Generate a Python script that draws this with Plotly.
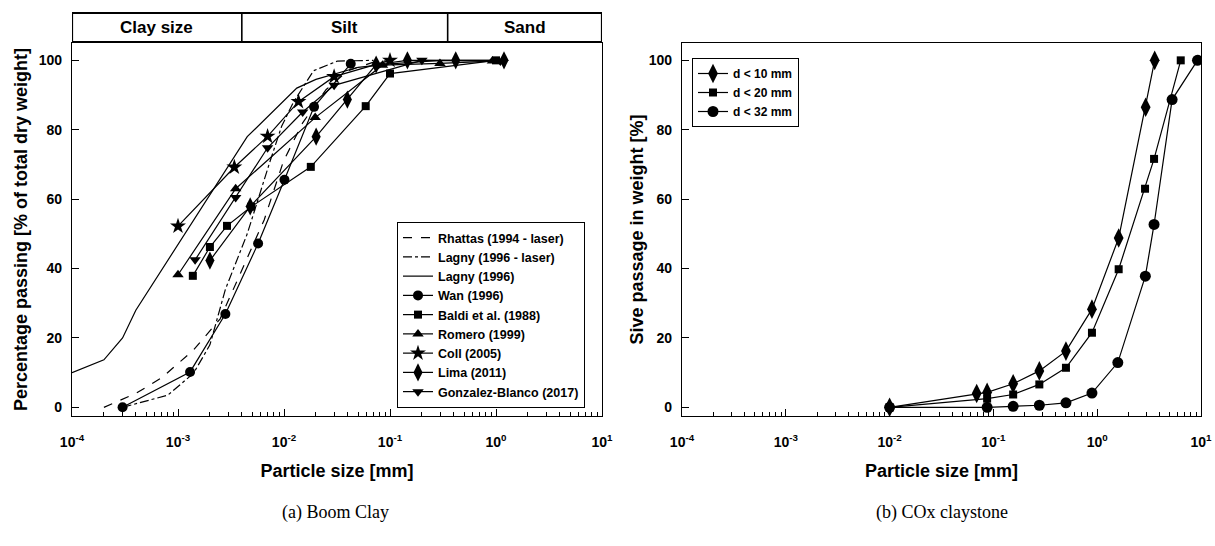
import numpy as np
import plotly.graph_objects as go

# ---------------- Boom Clay: particle size [mm] vs percentage passing [%] ----------------
rhattas_d = [0.0002, 0.0004, 0.0007, 0.0014, 0.0025, 0.0033, 0.0042, 0.0065, 0.0099, 0.015, 0.025, 0.04, 0.07, 0.1]
rhattas_p = [0, 4, 8.5, 16.5, 25.5, 34, 41, 54, 71, 82, 91.6, 97, 99.5, 100]

lagny_laser_d = [0.0003, 0.0008, 0.0014, 0.002, 0.0028, 0.0045, 0.0074, 0.0095, 0.0123, 0.019, 0.032, 0.07]
lagny_laser_p = [0, 3.5, 9.8, 18, 34, 50, 71, 81, 88, 97, 99.8, 100]

lagny_d = [0.0001, 0.0002, 0.0003, 0.0004, 0.0045, 0.0132, 0.02, 0.05, 0.1, 0.3, 1.0]
lagny_p = [10, 13.7, 20, 28, 78, 92, 94.5, 98, 99, 100, 100]

wan_d = [0.0003, 0.0013, 0.0028, 0.0057, 0.0101, 0.0192, 0.0426]
wan_p = [0, 10.2, 26.9, 47.2, 65.6, 86.6, 99]

baldi_d = [0.00138, 0.002, 0.0029, 0.0049, 0.0179, 0.059, 0.1, 1.0]
baldi_p = [37.9, 46.2, 52.3, 57.8, 69.3, 86.8, 96.2, 100]

romero_d = [0.001, 0.0035, 0.0197, 0.085, 0.296, 0.925]
romero_p = [38.2, 63, 83.5, 98.6, 99.1, 99.8]

coll_d = [0.001, 0.0034, 0.007, 0.0137, 0.0297, 0.1]
coll_p = [52.2, 69.2, 78.1, 88.1, 95.3, 100]

lima_d = [0.002, 0.0048, 0.0201, 0.0396, 0.074, 0.146, 0.417, 1.19]
lima_p = [42.3, 57.9, 78, 88.7, 98.8, 100, 100, 100]

gonzalez_d = [0.00145, 0.0035, 0.007, 0.015, 0.0297, 0.2, 1.1]
gonzalez_p = [42.5, 60.5, 74.8, 85.1, 92.8, 100, 99.8]

# Size classes shown in the header band [mm]
clay_silt_limit = 0.004
silt_sand_limit = 0.35
band_labels = ["Clay size", "Silt", "Sand"]

# ---------------- COx claystone: sieve passage in weight [%] ----------------
d10_d = [0.01, 0.069, 0.087, 0.155, 0.277, 0.5, 0.89, 1.61, 2.93, 3.58]
d10_p = [0, 4.0, 4.3, 6.8, 10.5, 16.2, 28.3, 48.8, 86.5, 100]

d20_d = [0.01, 0.087, 0.155, 0.277, 0.5, 0.89, 1.61, 2.89, 3.53, 6.38]
d20_p = [0, 2.5, 3.7, 6.6, 11.4, 21.5, 39.8, 63, 71.6, 100]

d32_d = [0.01, 0.087, 0.155, 0.277, 0.5, 0.89, 1.58, 2.91, 3.53, 5.27, 9.25]
d32_p = [0, 0, 0.3, 0.6, 1.3, 4.1, 12.9, 37.8, 52.7, 88.7, 100]

# Axis ticks
x_tickvals = [1e-4, 1e-3, 1e-2, 1e-1, 1e0, 1e1]
x_ticktext = ["10<sup>-4</sup>", "10<sup>-3</sup>", "10<sup>-2</sup>",
              "10<sup>-1</sup>", "10<sup>0</sup>", "10<sup>1</sup>"]
y_tickvals = [0, 20, 40, 60, 80, 100]

W, H = 1215, 546
FONT = "Arial, Liberation Sans, sans-serif"
BLACK = "#000000"

fig = go.Figure()


def curve(x, y, name, symbol=None, size=10, dash="solid", xa="x", ya="y", legend="legend"):
    mode = "lines+markers" if symbol else "lines"
    kw = dict(x=x, y=y, name=name, mode=mode, xaxis=xa, yaxis=ya, legend=legend,
              line=dict(color=BLACK, width=1.2, dash=dash))
    if symbol:
        kw["marker"] = dict(symbol=symbol, size=size, color=BLACK, line=dict(width=0))
    fig.add_trace(go.Scatter(**kw))


# Left panel
curve(rhattas_d, rhattas_p, "Rhattas (1994 - laser)", dash="dash")
curve(lagny_laser_d, lagny_laser_p, "Lagny (1996 - laser)", dash="dashdot")
curve(lagny_d, lagny_p, "Lagny (1996)")
curve(wan_d, wan_p, "Wan (1996)", "circle", 10)
curve(baldi_d, baldi_p, "Baldi et al. (1988)", "square", 8)
curve(romero_d, romero_p, "Romero (1999)", "triangle-up", 10)
curve(coll_d, coll_p, "Coll (2005)", "star", 12)
curve(lima_d, lima_p, "Lima (2011)", "diamond-tall", 13)
curve(gonzalez_d, gonzalez_p, "Gonzalez-Blanco (2017)", "triangle-down", 10)

# Right panel
curve(d10_d, d10_p, "d < 10 mm", "diamond-tall", 14, xa="x2", ya="y2", legend="legend2")
curve(d20_d, d20_p, "d < 20 mm", "square", 8, xa="x2", ya="y2", legend="legend2")
curve(d32_d, d32_p, "d < 32 mm", "circle", 11, xa="x2", ya="y2", legend="legend2")

# Minor tick positions on the log axes (2..9 within each decade)
minor_vals = [m * 10.0 ** e for e in range(-4, 1) for m in range(2, 10)]

tickfont = dict(family=FONT, size=14, color=BLACK, weight="bold")
titlefont = dict(family=FONT, size=18, color=BLACK, weight="bold")

minor_ticks = dict(tickmode="array", tickvals=minor_vals, ticks="inside", ticklen=4,
                   tickwidth=1.1, tickcolor=BLACK, showgrid=False)

xcommon = dict(type="log", range=[-4, 1], tickmode="array", tickvals=x_tickvals, ticktext=x_ticktext,
               ticks="inside", ticklen=7, tickwidth=1.2, tickcolor=BLACK, mirror=True,
               showline=True, linecolor=BLACK, linewidth=1.2, showgrid=False, zeroline=False,
               automargin=False, tickfont=tickfont, ticklabelstandoff=13, minor=minor_ticks,
               title=dict(text="Particle size [mm]", font=titlefont, standoff=15))
ycommon = dict(range=[-2.5, 105], tickmode="array", tickvals=y_tickvals,
               ticks="inside", ticklen=7, tickwidth=1.2, tickcolor=BLACK, mirror=True,
               showline=True, linecolor=BLACK, linewidth=1.2, showgrid=False, zeroline=False,
               automargin=False, tickfont=tickfont, ticklabelstandoff=6)

# Companion axes that repeat the tick marks on the top and right edges of each box
xtop = dict(type="log", range=[-4, 1], side="top", tickmode="array", tickvals=x_tickvals,
            showticklabels=False, ticks="inside", ticklen=7, tickwidth=1.2, tickcolor=BLACK,
            showline=False, showgrid=False, zeroline=False, automargin=False, minor=minor_ticks)
yright = dict(range=[-2.5, 105], side="right", tickmode="array", tickvals=y_tickvals,
              showticklabels=False, ticks="inside", ticklen=7, tickwidth=1.2, tickcolor=BLACK,
              showline=False, showgrid=False, zeroline=False, automargin=False)

y_dom = [1 - 416 / H, 1 - 43 / H]
left_dom = [72 / W, 602 / W]
right_dom = [682 / W, 1201 / W]

legend_font = dict(family=FONT, size=12.5, color=BLACK, weight="bold")

fig.update_layout(
    width=W, height=H,
    margin=dict(l=0, r=0, t=0, b=0, autoexpand=False),
    paper_bgcolor="white", plot_bgcolor="rgba(0,0,0,0)",
    showlegend=True,
    xaxis=dict(xcommon, domain=left_dom, anchor="y", layer="above traces"),
    yaxis=dict(ycommon, domain=y_dom, anchor="x", layer="above traces",
               title=dict(text="Percentage passing [% of total dry weight]", font=titlefont, standoff=6)),
    xaxis2=dict(xcommon, domain=right_dom, anchor="y2", layer="above traces"),
    yaxis2=dict(ycommon, domain=y_dom, anchor="x2", layer="above traces",
                title=dict(text="Sive passage in weight [%]", font=titlefont, standoff=0)),
    xaxis3=dict(xtop, domain=left_dom, anchor="y", overlaying="x"),
    yaxis3=dict(yright, domain=y_dom, anchor="x", overlaying="y"),
    xaxis4=dict(xtop, domain=right_dom, anchor="y2", overlaying="x2"),
    yaxis4=dict(yright, domain=y_dom, anchor="x2", overlaying="y2"),
    legend=dict(x=397 / W, y=1 - 408 / H, xanchor="left", yanchor="bottom",
                bgcolor="white", bordercolor=BLACK, borderwidth=1,
                font=legend_font, tracegroupgap=0, itemwidth=30),
    legend2=dict(x=692 / W, y=1 - 58 / H, xanchor="left", yanchor="top",
                 bgcolor="white", bordercolor=BLACK, borderwidth=1,
                 font=dict(legend_font, size=12), tracegroupgap=0, itemwidth=30),
)

# Header band with the size classes above the left panel
band_top, band_bot = 1 - 13 / H, 1 - 42 / H
edges = [x_tickvals[0], clay_silt_limit, silt_sand_limit, x_tickvals[-1]]
fig.add_shape(type="rect", xref="x", yref="paper", x0=edges[0], x1=edges[-1],
              y0=band_bot, y1=band_top, line=dict(color=BLACK, width=2.2), fillcolor="white")
for e in edges[1:-1]:
    fig.add_shape(type="line", xref="x", yref="paper", x0=e, x1=e, y0=band_bot, y1=band_top,
                  line=dict(color=BLACK, width=1.6))
for lo, hi, label in zip(edges[:-1], edges[1:], band_labels):
    fig.add_annotation(xref="x", yref="paper", x=(np.log10(lo) + np.log10(hi)) / 2,
                       y=(band_top + band_bot) / 2, text=label, showarrow=False,
                       font=dict(family=FONT, size=17, color=BLACK, weight="bold"),
                       xanchor="center", yanchor="middle")

# Sub-captions below each panel
capfont = dict(family="Liberation Serif, Times New Roman, serif", size=18, color=BLACK)
fig.add_annotation(xref="paper", yref="paper", x=336 / W, y=1 - 512 / H, text="(a) Boom Clay",
                   showarrow=False, font=capfont, xanchor="center", yanchor="middle")
fig.add_annotation(xref="paper", yref="paper", x=942 / W, y=1 - 512 / H, text="(b) COx claystone",
                   showarrow=False, font=capfont, xanchor="center", yanchor="middle")

fig.write_html("out.html")
